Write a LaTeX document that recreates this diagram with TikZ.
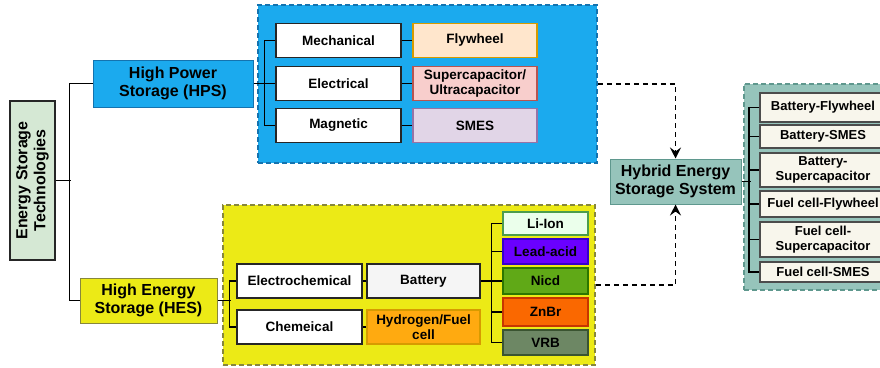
\documentclass[tikz,border=0pt]{standalone}
\usepackage{fontspec}
\setmainfont{Liberation Sans}
\usetikzlibrary{arrows.meta}
\begin{document}
\begin{tikzpicture}[x=1pt, y=-1pt, >={Stealth[length=11pt, width=11pt, inset=4pt]},
	box/.style={draw=black!85, line width=1.6pt, fill=white, inner sep=1pt, align=center, minimum height=34pt, font=\bfseries\fontsize{13.5}{15}\selectfont},
	big/.style={line width=1pt, inner sep=1pt, align=center, font=\bfseries\fontsize{16}{18}\selectfont},
	region/.style={line width=1.5pt, dash pattern=on 5pt off 3pt, inner sep=0pt},
	cell/.style={box, minimum width=85pt, minimum height=25pt, line width=1.4pt},
	pair/.style={box, minimum width=126pt, line width=2pt, draw=black!70, fill=cream, font=\bfseries\fontsize{13}{15}\selectfont}]
	\definecolor{hpsblue}{RGB}{27,170,238}
	\definecolor{hpsedge}{RGB}{20,115,175}
	\definecolor{hesyellow}{RGB}{236,234,22}
	\definecolor{hesedge}{RGB}{135,135,60}
	\definecolor{estgreen}{RGB}{213,232,212}
	\definecolor{hessteal}{RGB}{150,196,187}
	\definecolor{hessedge}{RGB}{95,152,142}
	\definecolor{cream}{RGB}{248,246,236}
	\definecolor{flyfill}{RGB}{255,230,204}
	\definecolor{flyedge}{RGB}{215,155,0}
	\definecolor{supfill}{RGB}{248,206,204}
	\definecolor{supedge}{RGB}{184,84,80}
	\definecolor{smesfill}{RGB}{225,213,231}
	\definecolor{smesedge}{RGB}{150,115,166}
	\definecolor{hydfill}{RGB}{255,170,16}
	\useasboundingbox (0,0) rectangle (880,367);
	\clip (0,0) rectangle (880,367);
	% dashed groups
	\node[region, draw=hpsedge, fill=hpsblue, minimum width=339pt, minimum height=158pt] (hpsarea) at (427.5,84) {};
	\node[region, draw=hesedge, fill=hesyellow, minimum width=372pt, minimum height=160pt] (hesarea) at (409,285) {};
	\node[region, draw=hessedge, fill=hessteal, minimum width=160pt, minimum height=206pt] (hessarea) at (824,187) {};
	% main branches
	\node[big, rotate=90, draw=black!85, line width=1.6pt, fill=estgreen, minimum width=159pt, minimum height=45pt] (est) at (32.5,180.5) {Energy Storage\\Technologies};
	\node[big, draw=hpsedge, fill=hpsblue, minimum width=160pt, minimum height=47pt] (hps) at (173,83.5) {High Power\\Storage (HPS)};
	\node[big, draw=hesedge, fill=hesyellow, minimum width=137pt, minimum height=45pt] (hes) at (148.5,300.5) {High Energy\\Storage (HES)};
	\node[big, draw=hessedge, fill=hessteal, minimum width=131pt, minimum height=45pt] (hess) at (675.5,181.5) {Hybrid Energy\\Storage System};
	\draw[line width=1.4pt] (est.south) -- ++(15,0);
	\draw[line width=1.4pt] (hps.west) -- ++(-23,0) |- (hes.west);
	% high power storage
	\node[box, minimum width=125pt] (mech) at (338.5,40.5) {Mechanical};
	\node[box, minimum width=125pt] (elec) at (338.5,83.5) {Electrical};
	\node[box, minimum width=125pt] (magn) at (338.5,125.5) {Magnetic};
	\node[box, minimum width=124pt, draw=flyedge, fill=flyfill] (fly) at (475,40.5) {Flywheel};
	\node[box, minimum width=124pt, draw=supedge, fill=supfill] (sup) at (475,83.5) {Supercapacitor/\\Ultracapacitor};
	\node[box, minimum width=124pt, draw=smesedge, fill=smesfill] (smes) at (475,125.5) {SMES};
	\draw[line width=1.4pt] (mech.west) -- ++(-11,0) |- (magn.west);
	\draw[line width=1.4pt] (hps.east) -- (elec.west);
	\draw[line width=1.4pt] (mech) -- (fly) (elec) -- (sup) (magn) -- (smes);
	% high energy storage
	\node[box, minimum width=125pt] (echem) at (299.5,281) {Electrochemical};
	\node[box, minimum width=125pt] (chem) at (299.5,327) {Chemeical};
	\node[box, minimum width=113pt, fill=black!4] (batt) at (423.5,281) {Battery};
	\node[box, minimum width=113pt, draw=flyedge, fill=hydfill] (hyd) at (423.5,327) {Hydrogen/Fuel\\cell};
	\draw[line width=1.4pt] (echem.west) -- ++(-7,0) |- (chem.west);
	\draw[line width=1.4pt] (hes.east) -- ++(13,0);
	\draw[line width=1.4pt] (echem) -- (batt) (chem) -- (hyd);
	\node[cell, draw=green!45!black!70, fill=green!8, minimum height=23pt] (liion) at (545.5,223.5) {Li-Ion};
	\node[cell, draw={rgb,255:red,55;green,0;blue,204}, fill={rgb,255:red,106;green,0;blue,255}] (lead) at (545.5,251.5) {Lead-acid};
	\node[cell, draw={rgb,255:red,45;green,118;blue,0}, fill={rgb,255:red,96;green,169;blue,23}, minimum height=26pt] (nicd) at (545.5,281) {Nicd};
	\node[cell, draw={rgb,255:red,199;green,53;blue,0}, fill={rgb,255:red,250;green,104;blue,0}, minimum height=28pt] (znbr) at (545.5,312) {ZnBr};
	\node[cell, draw={rgb,255:red,58;green,84;blue,49}, fill={rgb,255:red,109;green,135;blue,100}] (vrb) at (545.5,342.5) {VRB};
	\draw[line width=1.4pt] (liion.west) -- ++(-11,0) |- (vrb.west);
	\draw[line width=1.4pt] (batt.east) -- (nicd.west);
	\foreach \n in {lead,znbr}
		\draw[line width=1.4pt] (\n.west) -- ++(-11,0);
	% hybrid combinations
	\node[pair, minimum height=29pt] (bfly) at (823,107.5) {Battery-Flywheel};
	\node[pair, minimum height=23pt] (bsmes) at (823,136.5) {Battery-SMES};
	\node[pair, minimum height=34pt] (bsup) at (823,170) {Battery-\\Supercapacitor};
	\node[pair, minimum height=26pt] (ffly) at (823,204) {Fuel cell-Flywheel};
	\node[pair, minimum height=35pt] (fsup) at (823,239.5) {Fuel cell-\\Supercapacitor};
	\node[pair, minimum height=20pt] (fsmes) at (823,272) {Fuel cell-SMES};
	\draw[line width=1.4pt] (bfly.west) -- ++(-10,0) |- (fsmes.west);
	\foreach \n in {bsmes,bsup,ffly,fsup}
		\draw[line width=1.4pt] (\n.west) -- ++(-10,0);
	\draw[line width=1.4pt] (hess.east) -- ++(9,0);
	\draw[->, line width=1.6pt, dash pattern=on 5pt off 4pt] (hpsarea.east) -| (hess.north);
	\draw[->, line width=1.6pt, dash pattern=on 5pt off 4pt] (hesarea.east) -| (hess.south);
\end{tikzpicture}
\end{document}
